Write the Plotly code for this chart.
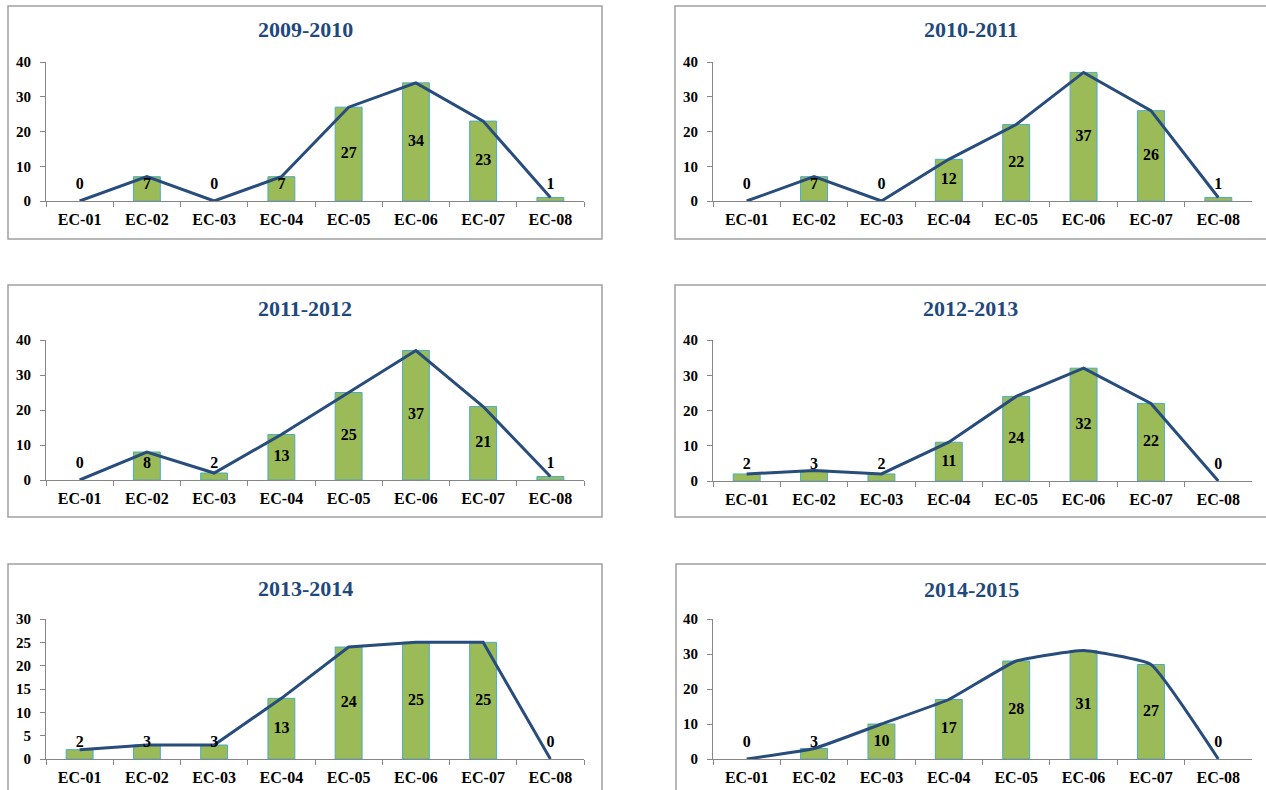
import plotly.graph_objects as go

# Enrolment counts per category, one list per academic year
categories = ["EC-01", "EC-02", "EC-03", "EC-04", "EC-05", "EC-06", "EC-07", "EC-08"]
years = ["2009-2010", "2010-2011", "2011-2012", "2012-2013", "2013-2014", "2014-2015"]
v_2009_2010 = [0, 7, 0, 7, 27, 34, 23, 1]
v_2010_2011 = [0, 7, 0, 12, 22, 37, 26, 1]
v_2011_2012 = [0, 8, 2, 13, 25, 37, 21, 1]
v_2012_2013 = [2, 3, 2, 11, 24, 32, 22, 0]
v_2013_2014 = [2, 3, 3, 13, 24, 25, 25, 0]
v_2014_2015 = [0, 3, 10, 17, 28, 31, 27, 0]
y_max = [40, 40, 40, 40, 30, 40]
y_step = [10, 10, 10, 10, 5, 10]
smooth = [False, False, False, False, False, True]

series = [v_2009_2010, v_2010_2011, v_2011_2012, v_2012_2013, v_2013_2014, v_2014_2015]

W, H = 1266, 790
SERIF = "Liberation Serif"
BAR_FILL = "#9BBB59"
BAR_EDGE = "#4BACC6"
LINE_COL = "#284C7C"
TITLE_COL = "#1F497D"
AXIS_COL = "#868686"

# pixel layout of each panel: frame box, plot box, title centre
frames = [(8, 6, 602, 239), (675, 6, 1270, 239),
          (8, 285, 602, 517), (675, 285, 1270, 517),
          (8, 564, 602, 800), (676, 564, 1270, 800)]
plots = [(46, 62, 584, 201), (713, 62, 1252, 201),
         (46, 340, 584, 480), (713, 340, 1252, 481),
         (46, 619, 584, 759), (713, 619, 1252, 759)]
title_y = [30, 30, 308, 308, 588, 589]

fx = lambda px: px / W
fy = lambda py: 1 - py / H

fig = go.Figure()
shapes, annotations = [], []

for i, (name, vals) in enumerate(zip(years, series)):
    n = "" if i == 0 else str(i + 1)
    xa, ya = "x" + n, "y" + n
    x0, y0, x1, y1 = plots[i]
    px_per_unit = (y1 - y0) / y_max[i]
    min_lab = 16 / px_per_unit

    fig.add_trace(go.Bar(
        x=categories, y=vals, xaxis=xa, yaxis=ya, width=0.4,
        marker=dict(color=BAR_FILL,
                    line=dict(color=BAR_EDGE, width=[1 if v > 0 else 0 for v in vals])),
        showlegend=False, hoverinfo="skip"))
    fig.add_trace(go.Scatter(
        x=categories, y=vals, xaxis=xa, yaxis=ya, mode="lines",
        line=dict(color=LINE_COL, width=3,
                  shape="spline" if smooth[i] else "linear", smoothing=0.35),
        cliponaxis=False, showlegend=False, hoverinfo="skip"))
    fig.add_trace(go.Scatter(
        x=categories, y=[max(v / 2, min_lab) for v in vals], xaxis=xa, yaxis=ya,
        mode="text", text=[str(v) for v in vals], textposition="middle center",
        textfont=dict(family=SERIF, size=16, color="black", weight="bold"),
        cliponaxis=False, showlegend=False, hoverinfo="skip"))

    axis_common = dict(showgrid=False, zeroline=False, showline=True,
                       linecolor=AXIS_COL, linewidth=1, ticks="outside",
                       ticklen=5, tickcolor=AXIS_COL, automargin=False)
    fig.layout["xaxis" + n] = dict(
        axis_common, domain=[fx(x0), fx(x1)], anchor=ya, type="category",
        range=[-0.5, 7.5], tickson="boundaries", ticklabelstandoff=4,
        tickfont=dict(family=SERIF, size=16, color="black", weight="bold"))
    fig.layout["yaxis" + n] = dict(
        axis_common, domain=[fy(y1), fy(y0)], anchor=xa,
        range=[0, y_max[i]], dtick=y_step[i], ticklabelstandoff=6,
        tickfont=dict(family=SERIF, size=15, color="black", weight="bold"))

    bx0, by0, bx1, by1 = frames[i]
    shapes.append(dict(type="rect", xref="paper", yref="paper",
                       x0=fx(bx0), x1=fx(bx1), y0=fy(by1), y1=fy(by0),
                       line=dict(color="#A0A0A0", width=1.5), layer="below"))
    annotations.append(dict(text=name, xref="paper", yref="paper",
                            x=fx((bx0 + min(bx1, 1266)) / 2), y=fy(title_y[i]),
                            xanchor="center", yanchor="middle", showarrow=False,
                            font=dict(family=SERIF, size=22, color=TITLE_COL, weight="bold")))

fig.update_layout(width=W, height=H, margin=dict(l=0, r=0, t=0, b=0, pad=0),
                  paper_bgcolor="white", plot_bgcolor="white",
                  shapes=shapes, annotations=annotations, bargap=0.6)

fig.write_html("out.html")
